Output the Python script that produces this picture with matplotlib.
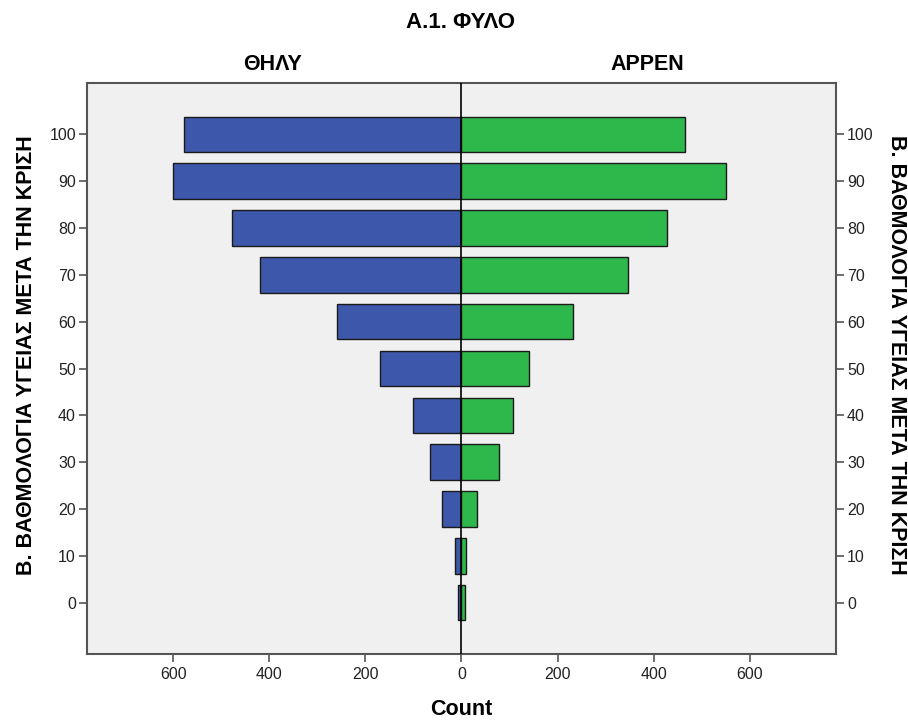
import numpy as np
import matplotlib
matplotlib.use("Agg")
import matplotlib.pyplot as plt

plt.rcParams['font.family'] = ['Liberation Sans', 'DejaVu Sans']

# health score after the crisis, counts per gender
scores = [0, 10, 20, 30, 40, 50, 60, 70, 80, 90, 100]
female = [7, 13, 41, 65, 102, 169, 259, 419, 478, 601, 577]
male = [8, 10, 33, 78, 107, 140, 233, 347, 429, 550, 466]
xticks = [-600, -400, -200, 0, 200, 400, 600]

title = "Α.1. ΦΥΛΟ"
left_group = "ΘΗΛΥ"
right_group = "ΑΡΡΕΝ"
ylabel = "Β. ΒΑΘΜΟΛΟΓΙΑ ΥΓΕΙΑΣ ΜΕΤΑ ΤΗΝ ΚΡΙΣΗ"
xlabel = "Count"

blue = "#3d57ab"
green = "#2eb74a"
text_col = "#222222"
spine_col = "#555555"

fig = plt.figure(figsize=(9.08, 7.21), dpi=100)
ax = fig.add_axes([0.0958, 0.0929, 0.8249, 0.792])
ax.set_facecolor("#f0f0f0")

ax.barh(scores, -np.array(female), height=7.6, color=blue, edgecolor="#1a1a1a", linewidth=1.0, zorder=2)
ax.barh(scores, male, height=7.6, color=green, edgecolor="#1a1a1a", linewidth=1.0, zorder=2)
ax.axvline(0, color="black", linewidth=1.2, zorder=3)

ax.set_xlim(-780, 780)
ax.set_ylim(-11, 111)
ax.set_xticks(xticks)
ax.set_xticklabels([str(abs(v)) for v in xticks])
ax.set_yticks(scores)

for s in ax.spines.values():
    s.set_color(spine_col)
    s.set_linewidth(1.5)

ax.tick_params(axis="both", direction="out", length=6, width=1.2, color=spine_col,
               labelsize=11.5, labelcolor=text_col)
ax.tick_params(axis="y", right=True, labelright=True, pad=2)

ax.set_xlabel(xlabel, fontsize=15.5, fontweight="bold", labelpad=12)

# axis titles on both sides
fig.text(0.0297, 0.508, ylabel, ha="center", va="center", rotation=90,
         fontsize=15.5, fontweight="bold")
fig.text(0.987, 0.508, ylabel, ha="center", va="center", rotation=-90,
         fontsize=15.5, fontweight="bold")

fig.text(0.507, 0.969, title, ha="center", va="center", fontsize=16, fontweight="bold")
fig.text(0.300, 0.911, left_group, ha="center", va="center", fontsize=15.5, fontweight="bold")
fig.text(0.713, 0.911, right_group, ha="center", va="center", fontsize=15.5, fontweight="bold")

fig.savefig("out.png", dpi=100, facecolor="white")
